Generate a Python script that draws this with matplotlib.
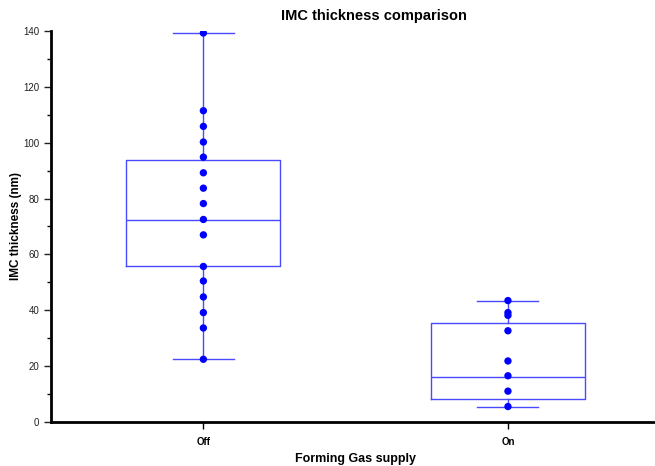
import matplotlib
matplotlib.use("Agg")
import matplotlib.pyplot as plt
from matplotlib.ticker import MultipleLocator

plt.rcParams['font.family'] = ['Liberation Sans', 'DejaVu Sans']

categories = ["Off", "On"]
off_values = [139.2, 111.4, 105.8, 100.2, 94.8, 89.2, 83.7, 78.2, 72.5,
              67.0, 55.7, 50.5, 44.8, 39.2, 33.7, 22.5]
on_values = [43.5, 39.2, 38.2, 32.7, 21.9, 16.6, 11.1, 5.6]

# box statistics as drawn (whiskers to min/max)
box_q1 = [55.7, 8.2]
box_med = [72.4, 16.3]
box_q3 = [93.7, 35.6]
box_lo = [22.5, 5.6]
box_hi = [139.2, 43.5]

fig = plt.figure(figsize=(6.55, 4.66), dpi=100)
ax = fig.add_axes([0.078, 0.094, 0.93, 0.84])

box_color = '#4a4aff'
stats = []
for i in range(len(categories)):
    stats.append(dict(q1=box_q1[i], med=box_med[i], q3=box_q3[i],
                      whislo=box_lo[i], whishi=box_hi[i], fliers=[],
                      label=categories[i]))
ax.bxp(stats, positions=[0, 1], widths=0.505, showfliers=False,
       boxprops=dict(color=box_color, linewidth=1.0),
       medianprops=dict(color=box_color, linewidth=1.0),
       whiskerprops=dict(color=box_color, linewidth=1.0),
       capprops=dict(color=box_color, linewidth=1.0),
       capwidths=0.2)

for i, vals in enumerate([off_values, on_values]):
    ax.scatter([i] * len(vals), vals, s=28, color='#0000ff', zorder=3,
               edgecolors='none')

ax.set_xlim(-0.5, 1.5)
ax.set_ylim(0, 140)
ax.set_xticks([0, 1])
ax.set_xticklabels(categories, fontsize=7, fontweight='bold')
ax.yaxis.set_major_locator(MultipleLocator(20))
ax.yaxis.set_minor_locator(MultipleLocator(10))
ax.tick_params(axis='y', labelsize=7, length=5, width=1, colors='#222222')
ax.tick_params(axis='y', which='minor', length=3, width=1)
ax.tick_params(axis='x', length=5, width=1, pad=6)

for s in ['top', 'right']:
    ax.spines[s].set_visible(False)
for s in ['left', 'bottom']:
    ax.spines[s].set_linewidth(2)
ax.spines['left'].set_zorder(4)
ax.spines['bottom'].set_zorder(4)

ax.set_ylabel("IMC thickness (nm)", fontsize=8.5, fontweight='bold', labelpad=1)
ax.set_xlabel("Forming Gas supply", fontsize=9, fontweight='bold', labelpad=4)
fig.text(0.571, 0.966, "IMC thickness comparison", fontsize=10.5,
         fontweight='bold', ha='center', va='center')

fig.savefig("out.png", dpi=100)
